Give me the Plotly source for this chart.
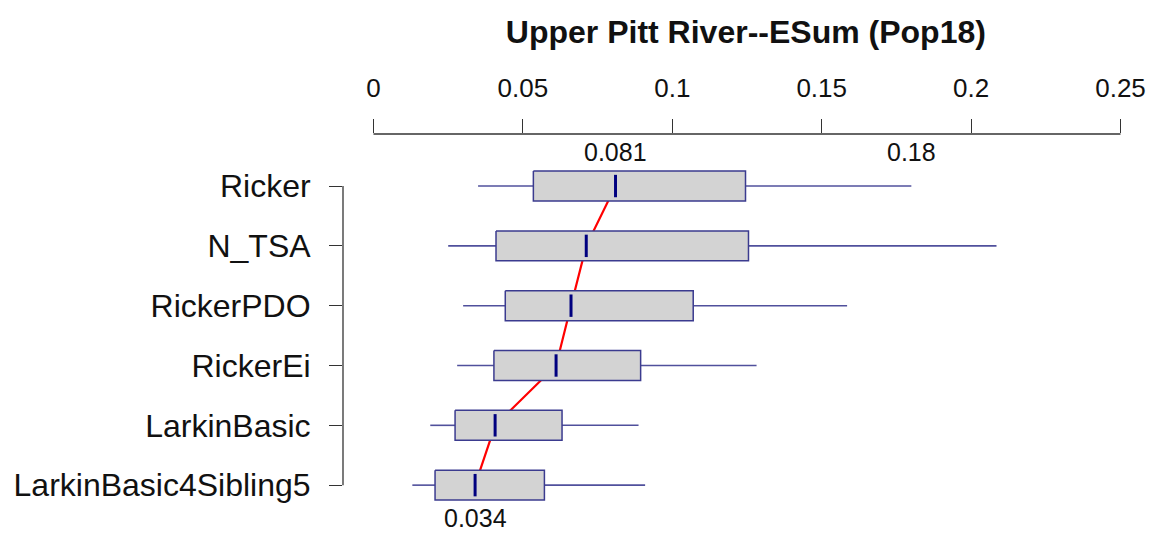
import plotly.graph_objects as go

# Model names, top to bottom
models = ["Ricker", "N_TSA", "RickerPDO", "RickerEi", "LarkinBasic", "LarkinBasic4Sibling5"]

# Box-plot summaries for each model
low = [0.035, 0.025, 0.030, 0.028, 0.019, 0.013]
q1 = [0.0535, 0.041, 0.0441, 0.0403, 0.0273, 0.0206]
med = [0.081, 0.0712, 0.0661, 0.0611, 0.0407, 0.034]
q3 = [0.1245, 0.1255, 0.107, 0.0894, 0.0631, 0.0572]
high = [0.18, 0.2085, 0.1585, 0.1282, 0.0887, 0.0909]

# Axis ticks
x_ticks = [0, 0.05, 0.1, 0.15, 0.2, 0.25]
x_tick_text = ["0", "0.05", "0.1", "0.15", "0.2", "0.25"]

FONT = "Arial, 'Liberation Sans', sans-serif"
INK = "#333333"
rows = list(range(len(models)))
half = 0.25

fig = go.Figure()

# trend line joining the medians, drawn beneath the boxes
fig.add_trace(go.Scatter(x=med, y=rows, mode="lines",
                         line=dict(color="#ff0000", width=2.2), hoverinfo="skip"))

# whiskers (no end caps)
wx, wy = [], []
for i in rows:
    wx += [low[i], q1[i], None, q3[i], high[i], None]
    wy += [i, i, None, i, i, None]
fig.add_trace(go.Scatter(x=wx, y=wy, mode="lines",
                         line=dict(color="#50509c", width=1.6), hoverinfo="skip"))

# interquartile boxes
for i in rows:
    fig.add_trace(go.Scatter(
        x=[q1[i], q3[i], q3[i], q1[i], q1[i]],
        y=[i - half, i - half, i + half, i + half, i - half],
        mode="lines", fill="toself", fillcolor="#d3d3d3",
        line=dict(color="#3b3b8f", width=1.5), hoverinfo="skip"))

# median ticks
fig.add_trace(go.Scatter(x=med, y=rows, mode="markers",
                         marker=dict(symbol="line-ns", size=16,
                                     line=dict(color="#00007f", width=3)),
                         hoverinfo="skip"))

annotations = [
    dict(x=med[0], y=-0.57, text=f"{med[0]:.3f}"),
    dict(x=high[0], y=-0.57, text=f"{high[0]:g}"),
    dict(x=med[-1], y=len(models) - 1 + 0.55, text=f"{med[-1]:.3f}"),
]
for a in annotations:
    a.update(xref="x", yref="y", showarrow=False, xanchor="center", yanchor="middle",
             font=dict(family=FONT, size=25, color="#111111"))

fig.update_layout(
    width=1151, height=533,
    margin=dict(l=343, r=0, t=134, b=0),
    paper_bgcolor="white", plot_bgcolor="white",
    showlegend=False,
    title=dict(text="<b>Upper Pitt River--ESum (Pop18)</b>",
               x=0.648, y=1 - 32 / 533, xanchor="center", yanchor="middle",
               font=dict(family=FONT, size=32, color="#111111")),
    xaxis=dict(range=[(343 - 373.5) / 2988, (1151 - 373.5) / 2988],
               side="top", tickvals=x_ticks, ticktext=x_tick_text,
               ticks="outside", ticklen=14, tickwidth=1.3, tickcolor=INK,
               ticklabelstandoff=12,
               tickfont=dict(family=FONT, size=26, color="#111111"),
               showgrid=False, zeroline=False, showline=False),
    yaxis=dict(range=[5.80, -0.87], tickvals=rows, ticktext=models,
               ticks="outside", ticklen=13, tickwidth=1.3, tickcolor=INK,
               ticklabelstandoff=12,
               tickfont=dict(family=FONT, size=32, color="#111111"),
               showgrid=False, zeroline=False, showline=False),
    annotations=annotations,
    shapes=[
        dict(type="line", xref="x", yref="paper", x0=x_ticks[0], x1=x_ticks[-1],
             y0=1, y1=1, line=dict(color=INK, width=1.3)),
        dict(type="line", xref="paper", yref="y", x0=0, x1=0,
             y0=rows[0], y1=rows[-1], line=dict(color=INK, width=1.3)),
    ],
)

fig.write_html("out.html")
